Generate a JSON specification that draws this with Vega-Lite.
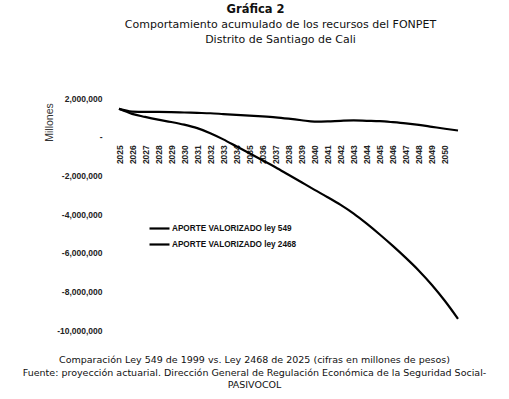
{
  "$schema": "https://vega.github.io/schema/vega-lite/v6.json",
  "autosize": {"type": "none"},
  "padding": {"left": 119, "top": 98, "right": 51, "bottom": 69},
  "width": 339,
  "height": 232,
  "background": "white",
  "config": {"view": {"stroke": null}, "font": "DejaVu Sans"},
  "title": {
    "text": "Gráfica 2",
    "anchor": "middle",
    "frame": "group",
    "dx": -33,
    "offset": 3,
    "font": "DejaVu Sans",
    "fontSize": 11.5,
    "fontWeight": "bold",
    "color": "#111"
  },
  "data": {
    "values": [
      {"year": 2025, "value": 1440000, "serie": "APORTE VALORIZADO ley 549"},
      {"year": 2026, "value": 1300000, "serie": "APORTE VALORIZADO ley 549"},
      {"year": 2027, "value": 1280000, "serie": "APORTE VALORIZADO ley 549"},
      {"year": 2028, "value": 1280000, "serie": "APORTE VALORIZADO ley 549"},
      {"year": 2029, "value": 1270000, "serie": "APORTE VALORIZADO ley 549"},
      {"year": 2030, "value": 1250000, "serie": "APORTE VALORIZADO ley 549"},
      {"year": 2031, "value": 1230000, "serie": "APORTE VALORIZADO ley 549"},
      {"year": 2032, "value": 1210000, "serie": "APORTE VALORIZADO ley 549"},
      {"year": 2033, "value": 1170000, "serie": "APORTE VALORIZADO ley 549"},
      {"year": 2034, "value": 1130000, "serie": "APORTE VALORIZADO ley 549"},
      {"year": 2035, "value": 1090000, "serie": "APORTE VALORIZADO ley 549"},
      {"year": 2036, "value": 1050000, "serie": "APORTE VALORIZADO ley 549"},
      {"year": 2037, "value": 1000000, "serie": "APORTE VALORIZADO ley 549"},
      {"year": 2038, "value": 930000, "serie": "APORTE VALORIZADO ley 549"},
      {"year": 2039, "value": 850000, "serie": "APORTE VALORIZADO ley 549"},
      {"year": 2040, "value": 780000, "serie": "APORTE VALORIZADO ley 549"},
      {"year": 2041, "value": 790000, "serie": "APORTE VALORIZADO ley 549"},
      {"year": 2042, "value": 820000, "serie": "APORTE VALORIZADO ley 549"},
      {"year": 2043, "value": 840000, "serie": "APORTE VALORIZADO ley 549"},
      {"year": 2044, "value": 820000, "serie": "APORTE VALORIZADO ley 549"},
      {"year": 2045, "value": 800000, "serie": "APORTE VALORIZADO ley 549"},
      {"year": 2046, "value": 750000, "serie": "APORTE VALORIZADO ley 549"},
      {"year": 2047, "value": 690000, "serie": "APORTE VALORIZADO ley 549"},
      {"year": 2048, "value": 610000, "serie": "APORTE VALORIZADO ley 549"},
      {"year": 2049, "value": 510000, "serie": "APORTE VALORIZADO ley 549"},
      {"year": 2050, "value": 410000, "serie": "APORTE VALORIZADO ley 549"},
      {"year": 2051, "value": 320000, "serie": "APORTE VALORIZADO ley 549"},
      {"year": 2025, "value": 1440000, "serie": "APORTE VALORIZADO ley 2468"},
      {"year": 2026, "value": 1180000, "serie": "APORTE VALORIZADO ley 2468"},
      {"year": 2027, "value": 1020000, "serie": "APORTE VALORIZADO ley 2468"},
      {"year": 2028, "value": 880000, "serie": "APORTE VALORIZADO ley 2468"},
      {"year": 2029, "value": 760000, "serie": "APORTE VALORIZADO ley 2468"},
      {"year": 2030, "value": 620000, "serie": "APORTE VALORIZADO ley 2468"},
      {"year": 2031, "value": 440000, "serie": "APORTE VALORIZADO ley 2468"},
      {"year": 2032, "value": 180000, "serie": "APORTE VALORIZADO ley 2468"},
      {"year": 2033, "value": -140000, "serie": "APORTE VALORIZADO ley 2468"},
      {"year": 2034, "value": -500000, "serie": "APORTE VALORIZADO ley 2468"},
      {"year": 2035, "value": -860000, "serie": "APORTE VALORIZADO ley 2468"},
      {"year": 2036, "value": -1220000, "serie": "APORTE VALORIZADO ley 2468"},
      {"year": 2037, "value": -1580000, "serie": "APORTE VALORIZADO ley 2468"},
      {"year": 2038, "value": -1970000, "serie": "APORTE VALORIZADO ley 2468"},
      {"year": 2039, "value": -2360000, "serie": "APORTE VALORIZADO ley 2468"},
      {"year": 2040, "value": -2750000, "serie": "APORTE VALORIZADO ley 2468"},
      {"year": 2041, "value": -3130000, "serie": "APORTE VALORIZADO ley 2468"},
      {"year": 2042, "value": -3530000, "serie": "APORTE VALORIZADO ley 2468"},
      {"year": 2043, "value": -3980000, "serie": "APORTE VALORIZADO ley 2468"},
      {"year": 2044, "value": -4500000, "serie": "APORTE VALORIZADO ley 2468"},
      {"year": 2045, "value": -5060000, "serie": "APORTE VALORIZADO ley 2468"},
      {"year": 2046, "value": -5650000, "serie": "APORTE VALORIZADO ley 2468"},
      {"year": 2047, "value": -6270000, "serie": "APORTE VALORIZADO ley 2468"},
      {"year": 2048, "value": -6930000, "serie": "APORTE VALORIZADO ley 2468"},
      {"year": 2049, "value": -7670000, "serie": "APORTE VALORIZADO ley 2468"},
      {"year": 2050, "value": -8500000, "serie": "APORTE VALORIZADO ley 2468"},
      {"year": 2051, "value": -9420000, "serie": "APORTE VALORIZADO ley 2468"}
    ]
  },
  "resolve": {"axis": {"x": "independent"}},
  "layer": [
    {
      "mark": {"type": "line", "interpolate": "monotone", "strokeWidth": 2.2},
      "encoding": {
        "x": {
          "field": "year",
          "type": "quantitative",
          "scale": {"domain": [2025, 2051], "nice": false, "zero": false},
          "axis": {
            "orient": "bottom",
            "values": [2025, 2026, 2027, 2028, 2029, 2030, 2031, 2032, 2033, 2034, 2035, 2036, 2037, 2038, 2039, 2040, 2041, 2042, 2043, 2044, 2045, 2046, 2047, 2048, 2049, 2050],
            "format": "d",
            "offset": -193.3,
            "domain": false,
            "ticks": false,
            "grid": false,
            "labelAngle": -90,
            "labelAlign": "right",
            "labelBaseline": "middle",
            "labelPadding": 8,
            "labelFont": "Liberation Sans",
            "labelFontSize": 8.5,
            "labelFontWeight": "bold",
            "labelColor": "#222",
            "labelOverlap": false,
            "labelFlush": false,
            "title": ["Comparación Ley 549 de 1999 vs. Ley 2468 de 2025 (cifras en millones de pesos)", "Fuente: proyección actuarial. Dirección General de Regulación Económica de la Seguridad Social-", "PASIVOCOL"],
            "titleFont": "DejaVu Sans",
            "titleFontSize": 9.5,
            "titleFontWeight": "normal",
            "titleColor": "#111",
            "titleLineHeight": 12.5,
            "titleAlign": "center",
            "titleBaseline": "top",
            "titleAngle": 0,
            "titleX": 135,
            "titleY": 218
          }
        },
        "y": {
          "field": "value",
          "type": "quantitative",
          "scale": {"domain": [-10000000, 2000000], "nice": false},
          "axis": {
            "values": [2000000, 0, -2000000, -4000000, -6000000, -8000000, -10000000],
            "labelExpr": "datum.value == 0 ? '-' : replace(format(datum.value, ','), '\u2212', '-')",
            "domain": false,
            "ticks": false,
            "grid": false,
            "labelPadding": 17,
            "labelFont": "Liberation Sans",
            "labelFontSize": 8.5,
            "labelFontWeight": "bold",
            "labelColor": "#222",
            "labelOverlap": false,
            "labelFlush": false,
            "title": "Millones",
            "titleFont": "Liberation Sans",
            "titleFontSize": 10.5,
            "titleFontWeight": "normal",
            "titleColor": "#333",
            "titleAngle": -90,
            "titleAlign": "center",
            "titleBaseline": "middle",
            "titleX": -70,
            "titleY": 24
          }
        },
        "color": {
          "field": "serie",
          "type": "nominal",
          "scale": {"domain": ["APORTE VALORIZADO ley 549", "APORTE VALORIZADO ley 2468"], "range": ["#000000", "#000000"]},
          "legend": {
            "orient": "none",
            "legendX": 29,
            "legendY": 119,
            "title": null,
            "symbolType": "stroke",
            "symbolSize": 400,
            "symbolStrokeWidth": 2.2,
            "labelFont": "Liberation Sans",
            "labelFontSize": 8.2,
            "labelFontWeight": "bold",
            "labelColor": "#111",
            "labelOffset": 1,
            "rowPadding": -3,
            "padding": 0
          }
        }
      }
    },
    {
      "mark": {"type": "line", "interpolate": "monotone", "opacity": 0},
      "encoding": {
        "x": {
          "field": "year",
          "type": "quantitative",
          "axis": {
            "orient": "top",
            "labels": false,
            "ticks": false,
            "domain": false,
            "grid": false,
            "title": ["Comportamiento acumulado de los recursos del FONPET", "Distrito de Santiago de Cali"],
            "titleFont": "DejaVu Sans",
            "titleFontSize": 11,
            "titleFontWeight": "normal",
            "titleColor": "#111",
            "titleLineHeight": 15.5,
            "titleAlign": "center",
            "titleBaseline": "top",
            "titleAngle": 0,
            "titleX": 161,
            "titleY": -80
          }
        },
        "detail": {"field": "serie"}
      }
    }
  ]
}
